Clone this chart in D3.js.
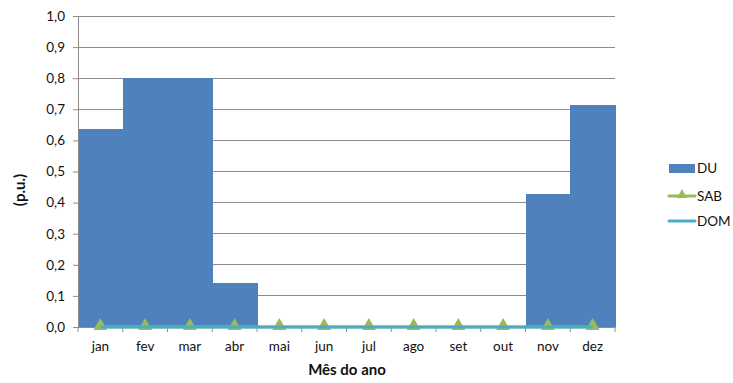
<!DOCTYPE html>
<html><head><meta charset="utf-8">
<script src="https://cdn.jsdelivr.net/npm/d3@7"></script>
<style>body{margin:0;background:#fff}text{font-family:Lato,"Open Sans",sans-serif}</style>
</head><body>
<svg id="c" width="733" height="383"></svg>
<script>
const months = ["jan","fev","mar","abr","mai","jun","jul","ago","set","out","nov","dez"];
const duVals = [0.636,0.8,0.8,0.143,0,0,0,0,0,0,0.429,0.714];
const sab = [0,0,0,0,0,0,0,0,0,0,0,0];
const dom = [0,0,0,0,0,0,0,0,0,0,0,0];
const yTicks = [0,0.1,0.2,0.3,0.4,0.5,0.6,0.7,0.8,0.9,1.0];

const svg = d3.select("#c");
const L=78,R=615,T=16,B=327;
const x = d3.scaleBand().domain(months).range([L,R]).padding(0);
const y = d3.scaleLinear().domain([0,1]).range([B,T]);
const fmt = v => d3.format(".1f")(v).replace(".",",");

// gridlines
svg.append("g").selectAll("line").data(yTicks.filter(d=>d>0)).join("line")
  .attr("x1",L).attr("x2",R).attr("y1",d=>y(d)).attr("y2",d=>y(d))
  .attr("stroke","#8c8c8c").attr("stroke-width",1).attr("shape-rendering","crispEdges");

// bars
svg.append("g").attr("shape-rendering","crispEdges").selectAll("rect")
  .data(months.map((m,i)=>({m,v:duVals[i]})).filter(d=>d.v>0)).join("rect")
  .attr("x",d=>x(d.m)).attr("width",x.bandwidth()+1)
  .attr("y",d=>y(d.v)).attr("height",d=>B-y(d.v))
  .attr("fill","#4F81BD");

// axes
const ya = svg.append("g").attr("transform",`translate(${L},0)`)
  .call(d3.axisLeft(y).tickValues(yTicks).tickFormat(fmt).tickSize(5).tickPadding(8));
const xa = svg.append("g").attr("transform",`translate(0,${B})`)
  .call(d3.axisBottom(x).tickSize(0).tickPadding(14));
[ya,xa].forEach(a=>{a.select(".domain").attr("stroke","#8c8c8c");
  a.selectAll("text").attr("font-size",13.5).attr("fill","#111").attr("font-family","Lato");
  a.selectAll("line").attr("stroke","#8c8c8c");});
// x ticks at boundaries
svg.append("g").selectAll("line").data(d3.range(13)).join("line")
  .attr("x1",i=>L+i*x.bandwidth()).attr("x2",i=>L+i*x.bandwidth())
  .attr("y1",B).attr("y2",B+5).attr("stroke","#8c8c8c");

// SAB line
const line = d3.line().x((d,i)=>x(months[i])+x.bandwidth()/2).y(d=>y(d));
svg.append("path").datum(sab).attr("d",line).attr("fill","none").attr("stroke","#9BBB59").attr("stroke-width",3);
svg.append("g").selectAll("path").data(sab).join("path")
  .attr("d",d3.symbol(d3.symbolTriangle,85))
  .attr("transform",(d,i)=>`translate(${x(months[i])+x.bandwidth()/2},${y(d)-1})`)
  .attr("fill","#9BBB59");
// DOM line
svg.append("path").datum(dom).attr("d",line).attr("fill","none").attr("stroke","#4BACC6").attr("stroke-width",3);

// titles
svg.append("text").attr("transform","translate(25,190) rotate(-90)").attr("text-anchor","middle")
  .attr("font-size",15).attr("font-weight","bold").attr("fill","#111").text("(p.u.)");
svg.append("text").attr("x",347).attr("y",375).attr("text-anchor","middle")
  .attr("font-size",15).attr("font-weight","bold").attr("fill","#111").text("Mês do ano");

// legend
const lg = svg.append("g");
lg.append("rect").attr("x",669).attr("y",164).attr("width",26).attr("height",9).attr("fill","#4F81BD");
lg.append("text").attr("x",697).attr("y",173).attr("font-size",13.5).attr("fill","#111").text("DU");
lg.append("line").attr("x1",669).attr("x2",695).attr("y1",196).attr("y2",196).attr("stroke","#9BBB59").attr("stroke-width",3).attr("stroke-linecap","round");
lg.append("path").attr("d",d3.symbol(d3.symbolTriangle,45)).attr("transform","translate(682,195)").attr("fill","#9BBB59");
lg.append("text").attr("x",697).attr("y",201).attr("font-size",13.5).attr("fill","#111").text("SAB");
lg.append("line").attr("x1",669).attr("x2",695).attr("y1",221).attr("y2",221).attr("stroke","#4BACC6").attr("stroke-width",3).attr("stroke-linecap","round");
lg.append("text").attr("x",697).attr("y",226).attr("font-size",13.5).attr("fill","#111").text("DOM");
</script>
</body></html>
